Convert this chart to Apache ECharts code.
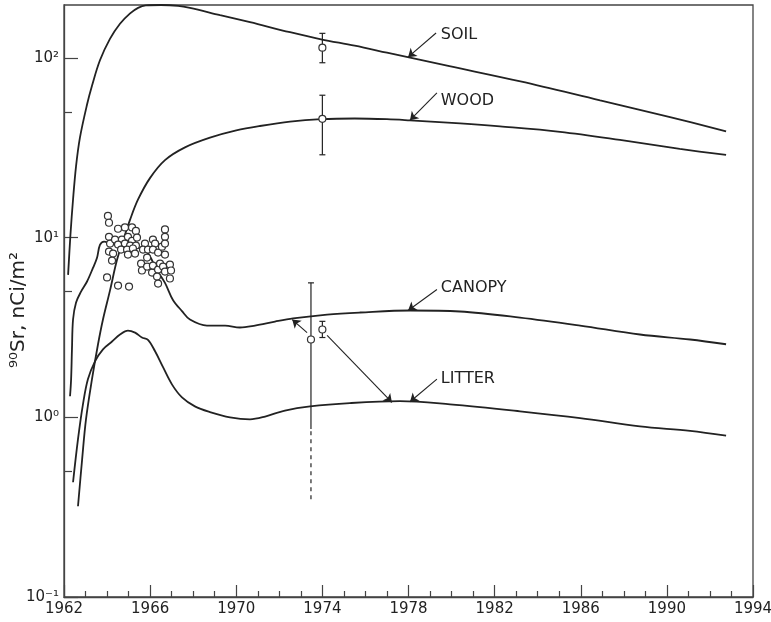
<!DOCTYPE html>
<html>
<head>
<meta charset="utf-8">
<script src="https://cdn.jsdelivr.net/npm/echarts@6/dist/echarts.min.js"></script>
<style>
  html, body { margin: 0; padding: 0; background: #fff; }
  #chart { width: 771px; height: 622px; }
</style>
</head>
<body>
<div id="chart"></div>
<script>
// 90Sr inventory per compartment, [year, nCi/m^2]
const soil = [
  [1962.19, 6.2], [1962.30, 10.4], [1962.42, 16.3], [1962.56, 25], [1962.74, 36],
  [1963.07, 55], [1963.30, 70], [1963.67, 97], [1964.14, 128], [1964.60, 155],
  [1965.07, 177], [1965.44, 190], [1965.8, 196], [1966.5, 197], [1967.3, 195],
  [1967.85, 190], [1969.25, 173], [1970.64, 158], [1972.5, 139], [1973.94, 127],
  [1975.5, 117], [1977.0, 107], [1979.9, 90], [1983.2, 74], [1986.9, 58],
  [1990.1, 47], [1992.75, 39]
];
const wood = [
  [1962.65, 0.32], [1962.84, 0.58], [1963.02, 0.97], [1963.30, 1.63], [1963.58, 2.55],
  [1963.81, 3.5], [1964.14, 5.1], [1964.46, 7.5], [1964.79, 10], [1965.07, 12.6],
  [1965.44, 16.3], [1966.0, 21.5], [1966.69, 27], [1967.62, 31.8], [1968.78, 36],
  [1970.0, 39.5], [1971.1, 41.8], [1972.5, 44.2], [1973.94, 45.6], [1975.5, 46],
  [1977.0, 45.6], [1978.07, 44.9], [1980.4, 43.2], [1982.25, 41.6], [1985.04, 38.8],
  [1987.82, 35], [1990.6, 31.2], [1992.75, 28.9]
];
const canopy = [
  [1962.28, 1.31], [1962.33, 1.63], [1962.37, 2.39], [1962.42, 3.5], [1962.56, 4.35],
  [1962.79, 5.0], [1963.07, 5.7], [1963.35, 6.8], [1963.53, 7.7], [1963.67, 9.1],
  [1963.86, 9.5], [1964.14, 9.3], [1964.6, 9.0], [1965.07, 8.9], [1965.53, 8.7],
  [1965.86, 8.3], [1966.32, 6.6], [1966.69, 5.6], [1967.06, 4.5], [1967.48, 3.9],
  [1967.85, 3.5], [1968.64, 3.24], [1969.48, 3.24], [1970.17, 3.16], [1970.87, 3.24],
  [1971.8, 3.41], [1972.64, 3.55], [1974.22, 3.73], [1975.75, 3.83], [1978.07, 3.93],
  [1980.39, 3.88], [1983.18, 3.59], [1985.97, 3.24], [1988.75, 2.89], [1991.08, 2.71],
  [1992.75, 2.55]
];
const litter = [
  [1962.42, 0.435], [1962.65, 0.755], [1962.88, 1.18], [1963.11, 1.63], [1963.44, 2.05],
  [1963.81, 2.39], [1964.23, 2.64], [1964.6, 2.89], [1964.97, 3.04], [1965.3, 2.96],
  [1965.62, 2.78], [1965.9, 2.7], [1966.23, 2.33], [1966.6, 1.9], [1967.02, 1.52],
  [1967.48, 1.29], [1968.08, 1.15], [1968.78, 1.07], [1969.71, 1.0], [1970.64, 0.975],
  [1971.34, 1.01], [1972.26, 1.09], [1973.43, 1.15], [1975.28, 1.2], [1977.6, 1.23],
  [1979.93, 1.18], [1983.18, 1.08], [1985.97, 0.99], [1988.75, 0.89], [1991.08, 0.84],
  [1992.75, 0.79]
];

// canopy samples, 1964-1967
const canopySamples = [
  [1964.04, 13.2], [1964.09, 12.1], [1964.09, 10.1], [1964.14, 9.26], [1964.09, 8.36],
  [1964.28, 8.15], [1964.23, 7.45], [1964.00, 6.0], [1964.51, 5.41], [1965.02, 5.34],
  [1964.51, 11.2], [1964.83, 11.4], [1965.16, 11.4], [1965.34, 10.9], [1964.37, 9.75],
  [1964.69, 9.75], [1964.97, 10.1], [1965.16, 9.6], [1965.39, 10.0], [1964.51, 9.15],
  [1964.83, 9.26], [1965.07, 9.03], [1965.34, 9.03], [1964.65, 8.58], [1964.93, 8.58],
  [1965.20, 8.7], [1964.97, 8.05], [1965.30, 8.15], [1965.76, 9.26], [1965.67, 8.58],
  [1965.90, 8.58], [1966.13, 9.75], [1966.23, 9.26], [1966.13, 8.58], [1966.37, 8.25],
  [1966.55, 8.9], [1966.69, 11.1], [1966.69, 10.1], [1966.69, 9.26], [1966.69, 8.05],
  [1965.58, 7.17], [1965.62, 6.56], [1965.86, 6.9], [1966.09, 6.39], [1966.13, 6.99],
  [1966.37, 6.64], [1966.46, 7.17], [1966.60, 6.9], [1966.69, 6.47], [1966.92, 7.08],
  [1966.97, 6.56], [1966.92, 5.92], [1966.32, 6.07], [1966.37, 5.55], [1965.86, 7.74]
];

// later measurements: soil, wood, canopy, litter
const measured = [[1974.0, 114], [1974.0, 45.8], [1973.47, 2.71], [1974.0, 3.08]];
// [year, low, high, lowCap, highCap, dashed]
const errorBars = [
  [1974.0, 94, 137, 1, 1, 0],
  [1974.0, 28.9, 62, 1, 1, 0],
  [1974.0, 2.78, 3.42, 1, 1, 0],
  [1973.47, 0.86, 5.6, 0, 1, 0],
  [1973.47, 0.35, 0.86, 0, 0, 1]
];

// curve labels and their pointer arrows
const labels = [
  ['SOIL', 1979.5, 134], ['WOOD', 1979.5, 57.7],
  ['CANOPY', 1979.5, 5.28], ['LITTER', 1979.5, 1.63]
];
const arrows = [
  [[1979.28, 137.6], [1977.98, 101]],
  [[1979.32, 63.9], [1978.07, 45]],
  [[1979.32, 5.14], [1977.98, 3.93]],
  [[1979.32, 1.63], [1978.07, 1.22]],
  [[1973.29, 2.96], [1972.6, 3.5]],
  [[1974.22, 2.86], [1977.23, 1.21]]
];

const yMajor = [0.1, 1, 10, 100];
const yMinor = [0.5, 5, 50];
const supers = { '-1': '⁻¹', '0': '⁰', '1': '¹', '2': '²' };

const INK = '#222';
const FONT = 'DejaVu Sans';

const chart = echarts.init(document.getElementById('chart'), null, { renderer: 'canvas' });

function curve(name, data) {
  return {
    name, type: 'line', data, showSymbol: false, symbol: 'none',
    smooth: 0.35,
    lineStyle: { color: INK, width: 1.8 }, z: 2, silent: true
  };
}

chart.setOption({
  animation: false,
  backgroundColor: '#fff',
  grid: {
    left: 64, right: 18, top: 5, bottom: 25, outerBoundsMode: 'none', containLabel: false,
    show: true, borderColor: '#444', borderWidth: 1.3, backgroundColor: 'transparent'
  },
  xAxis: {
    type: 'value', min: 1962, max: 1994, interval: 4,
    axisLine: { lineStyle: { color: '#444', width: 1.3 } },
    axisTick: { inside: true, length: 12, lineStyle: { color: '#444', width: 1.2 } },
    minorTick: { show: true, splitNumber: 4, length: 6, lineStyle: { color: '#444', width: 1.2 } },
    splitLine: { show: false },
    axisLabel: { color: INK, fontFamily: FONT, fontSize: 15, margin: 5, formatter: v => String(v) }
  },
  yAxis: [{
    type: 'log', logBase: 10, min: 0.1, max: 197,
    axisLine: { show: true, lineStyle: { color: '#444', width: 1.3 } },
    axisTick: { show: true, inside: true, length: 14, customValues: yMajor, lineStyle: { color: '#444', width: 1.2 } },
    splitLine: { show: false },
    axisLabel: {
      customValues: yMajor, color: INK, fontFamily: FONT, fontSize: 15, margin: 5,
      formatter: v => '10' + supers[String(Math.round(Math.log10(v)))]
    }
  }, {
    type: 'log', logBase: 10, min: 0.1, max: 197, position: 'left',
    axisLine: { show: false },
    axisTick: { show: true, inside: true, length: 8, customValues: yMinor, lineStyle: { color: '#444', width: 1.2 } },
    splitLine: { show: false },
    axisLabel: { show: false }
  }],
  graphic: [{
    type: 'text', x: 19, y: 310, rotation: Math.PI / 2,
    style: {
      text: '⁹⁰Sr, nCi/m²', fill: INK, font: '20px "DejaVu Sans"',
      align: 'center', verticalAlign: 'middle'
    }
  }],
  series: [
    curve('SOIL', soil),
    curve('WOOD', wood),
    curve('CANOPY', canopy),
    Object.assign(curve('LITTER', litter), {
      markLine: {
        silent: true, symbol: ['none', 'arrow'], symbolSize: 8,
        lineStyle: { color: INK, width: 1.1, type: 'solid' },
        label: { show: false },
        data: arrows.map(a => [{ coord: a[0] }, { coord: a[1] }])
      }
    }),
    {
      type: 'custom', name: 'error', data: errorBars, z: 3, silent: true,
      renderItem: (params, api) => {
        const x = api.value(0);
        const lo = api.coord([x, api.value(1)]);
        const hi = api.coord([x, api.value(2)]);
        const style = { stroke: INK, lineWidth: 1.2, lineDash: api.value(5) ? [4, 4] : null };
        const kids = [{ type: 'line', shape: { x1: lo[0], y1: lo[1], x2: hi[0], y2: hi[1] }, style }];
        const w = 3;
        if (api.value(3)) kids.push({ type: 'line', shape: { x1: lo[0] - w, y1: lo[1], x2: lo[0] + w, y2: lo[1] }, style: { stroke: INK, lineWidth: 1.2 } });
        if (api.value(4)) kids.push({ type: 'line', shape: { x1: hi[0] - w, y1: hi[1], x2: hi[0] + w, y2: hi[1] }, style: { stroke: INK, lineWidth: 1.2 } });
        return { type: 'group', children: kids };
      }
    },
    {
      type: 'scatter', name: 'samples', data: canopySamples.concat(measured),
      symbol: 'circle', symbolSize: 7, z: 4, silent: true,
      itemStyle: { color: '#fff', borderColor: '#333', borderWidth: 1.2, opacity: 1 }
    },
    {
      type: 'scatter', name: 'labels', symbolSize: 0, silent: true, z: 5,
      itemStyle: { opacity: 1 },
      data: labels.map(l => ({ value: [l[1], l[2]], name: l[0] })),
      label: {
        show: true, position: 'right', distance: 0, formatter: '{b}', opacity: 1,
        color: INK, fontFamily: FONT, fontSize: 16
      }
    }
  ]
});
</script>
</body>
</html>
